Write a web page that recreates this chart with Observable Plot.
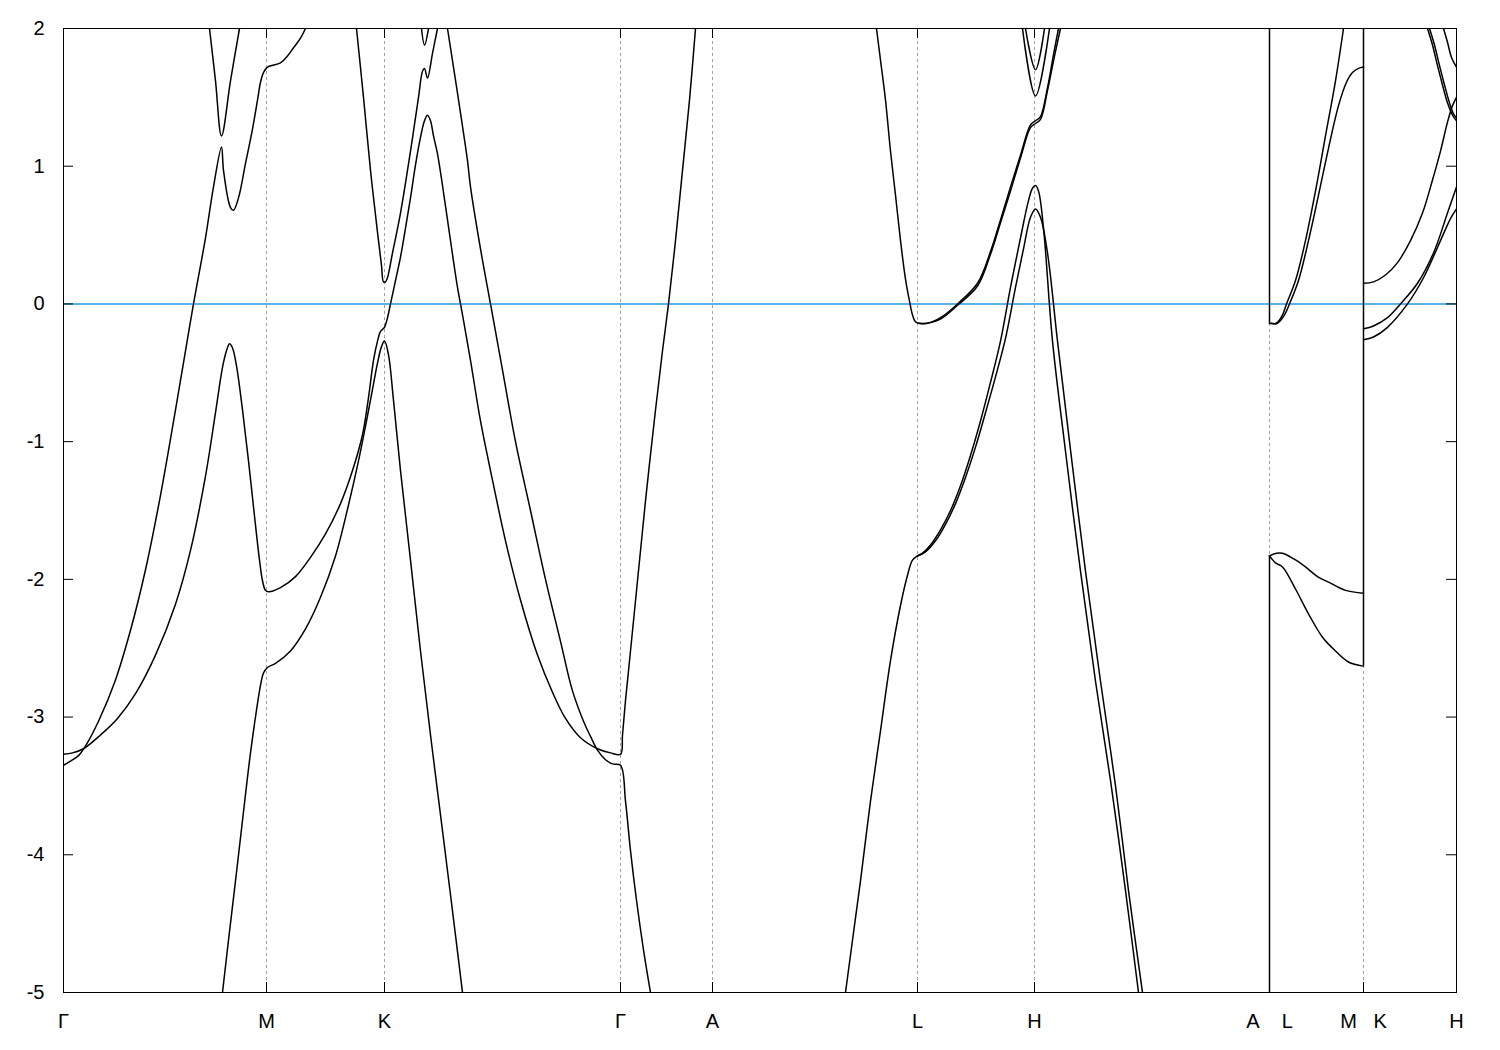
<!DOCTYPE html>
<html><head><meta charset="utf-8">
<script src="https://cdn.jsdelivr.net/npm/d3@7"></script>
<script src="https://cdn.jsdelivr.net/npm/@observablehq/plot@0.6"></script>
<style>body{margin:0;background:#fff;} #chart svg{display:block}</style>
</head><body><div id="chart"></div>
<script>
// High-symmetry points along the k-path (path coordinate) and their labels
const kPoints = [0, 2.03, 3.21, 5.57, 6.49, 8.54, 9.71, 12.06, 13.00, 13.93];
const kLabels = ["Γ", "M", "K", "Γ", "A", "L", "H", "A\u00a0\u00a0\u00a0\u00a0L", "M\u00a0\u00a0\u00a0K", "H"];
const energyTicks = [-5, -4, -3, -2, -1, 0, 1, 2];
const fermiLevel = 0;

// Bands: [k, E (eV)]
const band1 = [[0.00,-3.35],[0.07,-3.32],[0.15,-3.28],[0.22,-3.21],[0.35,-3.03],[0.52,-2.73],[0.67,-2.37],[0.82,-1.93],[0.97,-1.39],[1.12,-0.77],[1.22,-0.34],[1.30,0.00],[1.42,0.48],[1.50,0.85],[1.58,1.14],[1.60,0.97],[1.67,0.70],[1.70,0.68],[1.75,0.77],[1.82,1.02],[1.89,1.27],[1.94,1.48],[1.97,1.61],[2.00,1.68],[2.04,1.72],[2.17,1.75],[2.24,1.80],[2.30,1.86],[2.37,1.93],[2.42,2.00]];
const band2 = [[0.00,-3.27],[0.09,-3.26],[0.20,-3.23],[0.37,-3.13],[0.54,-3.01],[0.72,-2.83],[0.92,-2.55],[1.12,-2.18],[1.27,-1.79],[1.42,-1.25],[1.52,-0.79],[1.59,-0.46],[1.63,-0.34],[1.66,-0.29],[1.69,-0.32],[1.73,-0.45],[1.79,-0.77],[1.85,-1.14],[1.91,-1.54],[1.96,-1.86],[1.99,-2.01],[2.02,-2.08],[2.05,-2.09],[2.17,-2.06],[2.32,-1.98],[2.47,-1.84],[2.62,-1.67],[2.77,-1.45],[2.89,-1.21],[2.99,-0.95],[3.05,-0.68],[3.10,-0.41],[3.14,-0.27],[3.17,-0.20],[3.21,-0.17],[3.24,-0.10],[3.27,0.00],[3.32,0.17],[3.37,0.34],[3.42,0.55],[3.47,0.77],[3.52,1.01],[3.57,1.21],[3.61,1.33],[3.64,1.37],[3.67,1.33],[3.70,1.22],[3.74,1.09],[3.79,0.86],[3.84,0.61],[3.89,0.36],[3.94,0.12],[3.97,0.00],[4.00,-0.12],[4.07,-0.41],[4.17,-0.85],[4.29,-1.28],[4.42,-1.72],[4.57,-2.15],[4.74,-2.55],[4.89,-2.82],[5.02,-3.01],[5.17,-3.15],[5.34,-3.23],[5.47,-3.26],[5.57,-3.27],[5.59,-3.13],[5.62,-2.88],[5.67,-2.52],[5.74,-2.01],[5.82,-1.43],[5.92,-0.77],[5.99,-0.34],[6.05,0.00],[6.12,0.46],[6.19,0.97],[6.26,1.48],[6.32,2.00]];
const band3 = [[1.59,-5.00],[1.65,-4.62],[1.72,-4.19],[1.79,-3.75],[1.87,-3.26],[1.93,-2.95],[1.97,-2.77],[2.00,-2.68],[2.04,-2.64],[2.12,-2.61],[2.27,-2.52],[2.42,-2.36],[2.57,-2.13],[2.72,-1.83],[2.85,-1.46],[2.95,-1.14],[3.03,-0.85],[3.09,-0.62],[3.14,-0.43],[3.18,-0.31],[3.21,-0.27],[3.25,-0.37],[3.30,-0.70],[3.37,-1.21],[3.47,-1.86],[3.57,-2.52],[3.67,-3.13],[3.77,-3.71],[3.87,-4.29],[3.99,-5.00]];
const band4 = [[2.93,2.00],[3.00,1.50],[3.07,0.97],[3.14,0.52],[3.18,0.28],[3.20,0.16],[3.22,0.16],[3.24,0.19],[3.29,0.37],[3.37,0.66],[3.47,1.11],[3.55,1.50],[3.59,1.69],[3.61,1.71],[3.64,1.64],[3.69,1.82],[3.74,2.00]];
const band5 = [[3.58,2.00],[3.61,1.88],[3.65,2.00]];
const band6 = [[1.46,2.00],[1.52,1.62],[1.58,1.22],[1.67,1.62],[1.76,2.00]];
const band7 = [[3.84,2.00],[3.94,1.53],[4.04,1.04],[4.07,0.85],[4.17,0.40],[4.27,0.00],[4.39,-0.48],[4.52,-1.00],[4.67,-1.50],[4.82,-2.00],[4.97,-2.45],[5.09,-2.81],[5.20,-3.03],[5.27,-3.14],[5.34,-3.24],[5.42,-3.31],[5.49,-3.34],[5.57,-3.35],[5.62,-3.61],[5.67,-3.97],[5.73,-4.33],[5.80,-4.69],[5.87,-5.00]];
const band8 = [[7.82,-5.00],[7.89,-4.62],[7.97,-4.19],[8.07,-3.61],[8.17,-3.10],[8.27,-2.59],[8.37,-2.19],[8.44,-1.97],[8.49,-1.86],[8.54,-1.83],[8.59,-1.81],[8.67,-1.75],[8.77,-1.64],[8.87,-1.50],[8.97,-1.32],[9.07,-1.10],[9.17,-0.85],[9.27,-0.57],[9.37,-0.27],[9.47,0.12],[9.57,0.48],[9.65,0.75],[9.69,0.84],[9.72,0.86],[9.75,0.82],[9.80,0.55],[9.89,-0.27],[10.02,-1.07],[10.17,-1.94],[10.32,-2.74],[10.47,-3.46],[10.62,-4.26],[10.75,-5.00]];
const band9 = [[8.54,-1.83],[8.62,-1.80],[8.72,-1.72],[8.82,-1.60],[8.92,-1.45],[9.02,-1.26],[9.12,-1.04],[9.22,-0.79],[9.32,-0.53],[9.42,-0.25],[9.52,0.12],[9.60,0.40],[9.67,0.63],[9.72,0.69],[9.77,0.63],[9.84,0.37],[9.94,-0.27],[10.07,-1.06],[10.22,-1.94],[10.37,-2.74],[10.52,-3.50],[10.65,-4.26],[10.79,-5.00]];
const band10 = [[8.13,2.00],[8.17,1.77],[8.22,1.48],[8.27,1.11],[8.32,0.79],[8.37,0.46],[8.42,0.18],[8.46,0.02],[8.49,-0.08],[8.52,-0.13],[8.55,-0.14],[8.64,-0.14],[8.77,-0.10],[8.94,0.00],[9.14,0.15],[9.27,0.38],[9.37,0.61],[9.47,0.85],[9.57,1.08],[9.67,1.30],[9.72,1.33],[9.77,1.36],[9.84,1.57],[9.90,1.81],[9.95,2.00]];
const band11 = [[8.55,-0.14],[8.64,-0.14],[8.77,-0.11],[8.94,-0.01],[9.14,0.13],[9.27,0.36],[9.37,0.59],[9.47,0.82],[9.57,1.06],[9.67,1.28],[9.72,1.31],[9.77,1.34],[9.84,1.55],[9.91,1.80],[9.97,2.00]];
const band12 = [[9.62,2.00],[9.72,1.70],[9.81,2.00]];
const band13 = [[9.59,2.00],[9.72,1.51],[9.86,2.00]];
const band14 = [[12.06,-0.14],[12.13,-0.14],[12.19,-0.08],[12.23,0.00],[12.32,0.17],[12.42,0.46],[12.52,0.82],[12.62,1.22],[12.72,1.62],[12.80,2.00]];
const band15 = [[12.06,-0.14],[12.14,-0.14],[12.21,-0.08],[12.26,0.00],[12.35,0.17],[12.45,0.46],[12.55,0.79],[12.65,1.13],[12.75,1.44],[12.83,1.61],[12.89,1.68],[12.95,1.71],[13.00,1.72]];
const band16 = [[12.06,-1.83],[12.13,-1.81],[12.19,-1.81],[12.30,-1.85],[12.42,-1.91],[12.54,-1.98],[12.65,-2.02],[12.82,-2.08],[13.00,-2.10]];
const band17 = [[12.06,-1.83],[12.12,-1.88],[12.19,-1.91],[12.32,-2.07],[12.45,-2.25],[12.59,-2.42],[12.72,-2.52],[12.85,-2.60],[13.00,-2.63]];
const band18 = [[13.00,0.15],[13.10,0.16],[13.22,0.21],[13.34,0.30],[13.47,0.46],[13.59,0.66],[13.69,0.90],[13.77,1.11],[13.84,1.32],[13.89,1.44],[13.93,1.50]];
const band19 = [[13.00,-0.18],[13.10,-0.16],[13.24,-0.10],[13.37,0.00],[13.54,0.15],[13.70,0.37],[13.84,0.66],[13.93,0.85]];
const band20 = [[13.00,-0.26],[13.10,-0.24],[13.24,-0.17],[13.44,0.00],[13.60,0.19],[13.77,0.46],[13.87,0.62],[13.93,0.69]];
const band21 = [[13.64,2.00],[13.69,1.88],[13.74,1.73],[13.79,1.59],[13.84,1.46],[13.89,1.37],[13.93,1.33]];
const band22 = [[13.66,2.00],[13.71,1.88],[13.76,1.73],[13.81,1.59],[13.86,1.46],[13.90,1.38],[13.93,1.35]];
const band23 = [[13.80,2.00],[13.84,1.90],[13.88,1.79],[13.93,1.72]];

// Vertical jumps of the band lines at the path discontinuities (A|L and M|K)
const jumpK = [12.06, 12.06, 13.00];
const jumpFrom = [2.0, -1.83, 2.0];
const jumpTo = [-0.14, -5.0, -2.63];

const bands = [band1,band2,band3,band4,band5,band6,band7,band8,band9,band10,band11,band12,band13,band14,band15,band16,band17,band18,band19,band20,band21,band22,band23];
const rows = bands.flatMap((b, i) => b.map(([k, E]) => ({band: i, k, E})));
const jumps = jumpK.map((k, i) => ({k, from: jumpFrom[i], to: jumpTo[i]}));

const W = 1500, H = 1050, mt = 28, mb = 58, ml = 63, mr = 44;
const kMin = kPoints[0], kMax = kPoints[kPoints.length - 1];
const eMin = energyTicks[0], eMax = energyTicks[energyTicks.length - 1];
const kPerPx = (kMax - kMin) / (W - ml - mr);
const ePerPx = (eMax - eMin) / (H - mt - mb);
const tickLen = 10;

const chart = Plot.plot({
  width: W, height: H,
  marginTop: mt, marginBottom: mb, marginLeft: ml, marginRight: mr,
  x: {domain: [kMin, kMax]},
  y: {domain: [eMin, eMax]},
  style: {fontFamily: "'Liberation Sans', Arial, sans-serif", fontSize: "20px", background: "white", color: "black"},
  marks: [
    Plot.ruleX(kPoints.slice(1, -1), {x: d => d, y1: eMin, y2: eMax, stroke: "#a0a0a0", strokeWidth: 1, strokeDasharray: "3,3"}),
    Plot.ruleY([fermiLevel], {stroke: "#56b4e9", strokeWidth: 2}),
    Plot.line(rows, {x: "k", y: "E", z: "band", curve: "catmull-rom", stroke: "black", strokeWidth: 1.5, clip: true}),
    Plot.ruleX(jumps, {x: "k", y1: "from", y2: "to", stroke: "black", strokeWidth: 1.5}),
    Plot.frame({stroke: "black", strokeWidth: 1}),
    Plot.ruleY(energyTicks, {y: d => d, x1: kMin, x2: kMin + tickLen * kPerPx, stroke: "black"}),
    Plot.ruleY(energyTicks, {y: d => d, x1: kMax - tickLen * kPerPx, x2: kMax, stroke: "black"}),
    Plot.ruleX(kPoints, {x: d => d, y1: eMin, y2: eMin + tickLen * ePerPx, stroke: "black"}),
    Plot.ruleX(kPoints, {x: d => d, y1: eMax, y2: eMax - tickLen * ePerPx, stroke: "black"}),
    Plot.axisY({ticks: energyTicks, tickSize: 0, tickPadding: 19, tickFormat: d => String(d), label: null}),
    Plot.axisX({ticks: kPoints, tickSize: 0, tickPadding: 21, tickFormat: d => kLabels[kPoints.indexOf(d)], label: null})
  ]
});
document.getElementById("chart").appendChild(chart);
</script>
</body></html>
